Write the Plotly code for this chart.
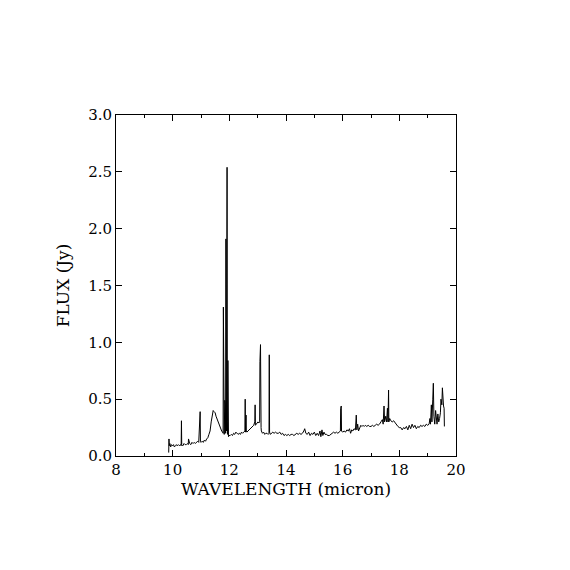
import plotly.graph_objects as go

wavelength = [
    9.86, 9.87, 9.88, 9.90, 9.93, 9.96, 10.00, 10.03, 10.06, 10.10, 10.13, 10.16, 10.20, 10.24, 10.28, 10.30, 10.31, 10.32,
    10.36, 10.40, 10.44, 10.48, 10.52, 10.55, 10.56, 10.60, 10.64, 10.68, 10.72, 10.76, 10.80, 10.84, 10.88, 10.92,
    10.95, 10.97, 10.98, 11.00, 11.04, 11.08, 11.12, 11.16, 11.20, 11.24, 11.28, 11.32,
    11.36, 11.40, 11.43, 11.46, 11.50, 11.53, 11.56, 11.60, 11.63, 11.66, 11.70, 11.73, 11.76, 11.78, 11.79, 11.80,
    11.82, 11.84, 11.86, 11.87, 11.88, 11.89, 11.90, 11.92, 11.93, 11.94, 11.95, 11.96, 11.97, 11.99,
    12.03, 12.07, 12.11, 12.15, 12.19, 12.23, 12.27, 12.31, 12.35, 12.39, 12.43, 12.47, 12.51, 12.55, 12.56, 12.57,
    12.59, 12.60, 12.62, 12.66, 12.70, 12.74, 12.78, 12.82, 12.86, 12.90, 12.91, 12.92, 12.95, 12.98, 13.01, 13.04,
    13.07, 13.08, 13.09, 13.10, 13.12, 13.13, 13.14, 13.17, 13.21, 13.25, 13.29, 13.33, 13.37, 13.40, 13.41, 13.42,
    13.45, 13.49,
    13.53, 13.58, 13.63, 13.68, 13.73, 13.78, 13.83, 13.88, 13.93, 13.98, 14.03, 14.08, 14.13, 14.18, 14.23, 14.28,
    14.33, 14.38, 14.43, 14.48, 14.53, 14.58, 14.63, 14.66, 14.70, 14.75, 14.80, 14.85, 14.90, 14.95, 15.00, 15.05,
    15.10, 15.15, 15.20, 15.23, 15.27, 15.30, 15.34, 15.38, 15.43, 15.48, 15.53, 15.58, 15.63, 15.68, 15.73, 15.78,
    15.83, 15.88, 15.92, 15.93, 15.94, 15.95, 15.96,
    16.00, 16.05, 16.10, 16.15, 16.20, 16.24, 16.28, 16.32, 16.36, 16.40, 16.45, 16.48, 16.50, 16.53, 16.56, 16.60,
    16.64, 16.68, 16.72, 16.76, 16.80, 16.85, 16.90, 16.95, 17.00, 17.05, 17.10, 17.15, 17.20, 17.25, 17.30, 17.35,
    17.40, 17.43, 17.46, 17.48, 17.52, 17.55, 17.58, 17.60, 17.62, 17.63, 17.66, 17.70, 17.75, 17.80, 17.85, 17.90,
    17.95, 18.00, 18.05, 18.10, 18.15, 18.20, 18.25, 18.30, 18.35, 18.40, 18.45, 18.50, 18.55, 18.60, 18.65, 18.70,
    18.75, 18.80, 18.85, 18.90, 18.95, 19.00, 19.05, 19.08, 19.10, 19.13, 19.15, 19.18, 19.20, 19.22, 19.25, 19.28,
    19.30, 19.33, 19.36, 19.39, 19.42, 19.45, 19.47, 19.50, 19.52, 19.54, 19.56, 19.58, 19.59,
]

flux = [
    0.03, 0.15, 0.09, 0.11, 0.08, 0.10, 0.09, 0.10, 0.08, 0.09, 0.10, 0.09, 0.10, 0.09, 0.10, 0.09, 0.31, 0.10,
    0.09, 0.11, 0.10, 0.10, 0.11, 0.10, 0.15, 0.11, 0.10, 0.12, 0.11, 0.12, 0.11, 0.12, 0.13, 0.12,
    0.25, 0.39, 0.13, 0.12, 0.13, 0.12, 0.14, 0.13, 0.15, 0.16, 0.19, 0.22,
    0.30, 0.37, 0.40, 0.39, 0.38, 0.35, 0.33, 0.29, 0.27, 0.25, 0.23, 0.22, 0.21, 0.20, 1.31, 0.22,
    0.19, 0.49, 0.45, 0.20, 1.91, 0.50, 0.22, 2.54, 0.30, 0.19, 0.84, 0.20, 0.17, 0.18,
    0.18, 0.19, 0.18, 0.20, 0.19, 0.21, 0.20, 0.19, 0.20, 0.19, 0.21, 0.20, 0.21, 0.22, 0.50, 0.21,
    0.36, 0.22, 0.21, 0.22, 0.23, 0.24, 0.25, 0.26, 0.27, 0.30, 0.45, 0.27, 0.28, 0.29, 0.30, 0.29,
    0.30, 0.83, 0.55, 0.98, 0.25, 0.22, 0.21, 0.20, 0.21, 0.19, 0.20, 0.20, 0.19, 0.20, 0.89, 0.21,
    0.19, 0.20,
    0.21, 0.20, 0.21, 0.20, 0.20, 0.21, 0.19, 0.20, 0.18, 0.19, 0.18, 0.19, 0.18, 0.19, 0.19, 0.18,
    0.19, 0.20, 0.19, 0.20, 0.19, 0.20, 0.22, 0.24, 0.20, 0.19, 0.21, 0.18, 0.20, 0.19, 0.21, 0.18,
    0.20, 0.18, 0.22, 0.17, 0.23, 0.18, 0.21, 0.19, 0.19, 0.18, 0.18, 0.19, 0.20, 0.21, 0.20, 0.21,
    0.20, 0.21, 0.22, 0.42, 0.22, 0.44, 0.22,
    0.21, 0.22, 0.21, 0.23, 0.22, 0.24, 0.20, 0.23, 0.22, 0.24, 0.23, 0.36, 0.23, 0.28, 0.22, 0.24,
    0.27, 0.26, 0.27, 0.26, 0.27, 0.26, 0.27, 0.26, 0.26, 0.27, 0.26, 0.27, 0.28, 0.27, 0.28, 0.30,
    0.32, 0.28, 0.44, 0.30, 0.35, 0.30, 0.42, 0.30, 0.58, 0.30, 0.33, 0.31, 0.30, 0.31, 0.29, 0.27,
    0.26, 0.25, 0.25, 0.23, 0.25, 0.24, 0.26, 0.23, 0.27, 0.24, 0.28, 0.25, 0.27, 0.24, 0.26, 0.25,
    0.27, 0.26, 0.27, 0.26, 0.28, 0.27, 0.28, 0.33, 0.28, 0.45, 0.30, 0.50, 0.64, 0.35, 0.28, 0.40,
    0.33, 0.28, 0.37, 0.30, 0.33, 0.38, 0.50, 0.45, 0.60, 0.48, 0.44, 0.42, 0.26,
]

x_tick_vals = [8, 10, 12, 14, 16, 18, 20]
y_tick_vals = [0.0, 0.5, 1.0, 1.5, 2.0, 2.5, 3.0]

font_family = "DejaVu Serif, Liberation Serif, serif"

fig = go.Figure()
fig.add_trace(go.Scatter(
    x=wavelength, y=flux, mode="lines",
    line=dict(color="black", width=1),
    hoverinfo="skip", showlegend=False,
))

axis_common = dict(
    showgrid=False, zeroline=False, showline=True, linecolor="black", linewidth=1,
    mirror="ticks", ticks="inside", tickcolor="black", tickwidth=1,
    tickfont=dict(family=font_family, size=15, color="black"),
)

fig.update_xaxes(
    range=[8, 20], tickvals=x_tick_vals, ticklen=6,
    minor=dict(ticks="inside", ticklen=3, dtick=1, tick0=8, tickcolor="black"),
    title=dict(text="WAVELENGTH (micron)", font=dict(family=font_family, size=17, color="black"), standoff=5),
    **axis_common,
)
fig.update_yaxes(
    range=[0, 3.0], tickvals=y_tick_vals, tickformat=".1f", ticklen=6,
    title=dict(text="FLUX (Jy)", font=dict(family=font_family, size=17, color="black"), standoff=14),
    **axis_common,
)

fig.update_layout(
    width=570, height=570,
    margin=dict(l=108, r=122, t=107, b=122),
    paper_bgcolor="white", plot_bgcolor="white",
    font=dict(family=font_family, color="black"),
)

fig.write_html("out.html")
